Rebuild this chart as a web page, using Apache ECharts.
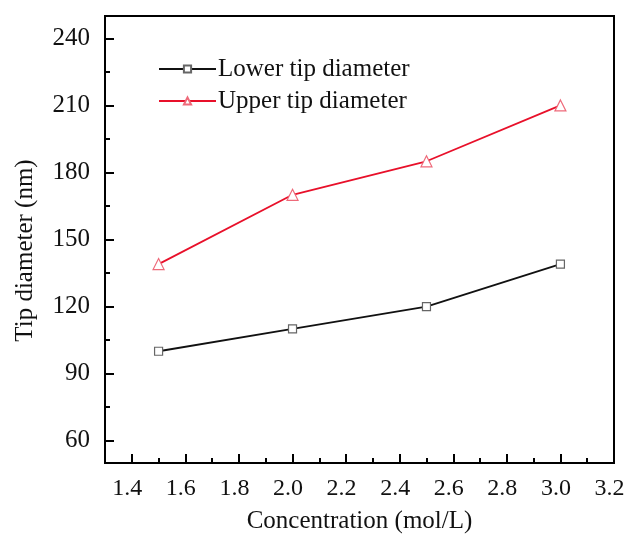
<!DOCTYPE html>
<html>
<head>
<meta charset="utf-8">
<script src="https://cdn.jsdelivr.net/npm/echarts@6/dist/echarts.min.js"></script>
<style>
  html, body { margin: 0; padding: 0; background: #fff; }
  #main { width: 625px; height: 535px; }
</style>
</head>
<body>
<div id="main"></div>
<script>
var concentration = [1.5, 2.0, 2.5, 3.0];
var lowerTip = [100, 110, 120, 139];
var upperTip = [139, 170, 185, 210];
var xLabels = [1.4, 1.6, 1.8, 2.0, 2.2, 2.4, 2.6, 2.8, 3.0, 3.2];
var xMinor = [1.5, 1.7, 1.9, 2.1, 2.3, 2.5, 2.7, 2.9, 3.1];
var yLabels = [60, 90, 120, 150, 180, 210, 240];
var yMinor = [75, 105, 135, 165, 195, 225];

function pairs(xs, ys) {
  return xs.map(function (x, i) { return [x, ys[i]]; });
}

var font = 'Liberation Serif';
var chart = echarts.init(document.getElementById('main'));

var option = {
  animation: false,
  textStyle: { fontFamily: font },
  grid: {
    left: 105, top: 16, right: 11, bottom: 72,
    outerBoundsMode: 'none', containLabel: false,
    show: true, borderColor: '#000', borderWidth: 2
  },
  legend: {
    orient: 'vertical',
    left: 153, top: 51,
    itemWidth: 57, itemHeight: 9, itemGap: 6,
    textStyle: { fontFamily: font, fontSize: 25, color: '#111', lineHeight: 26, padding: [0, 0, 0, -3] },
    data: ['Lower tip diameter', 'Upper tip diameter']
  },
  xAxis: [{
    type: 'value', min: 1.3, max: 3.2,
    name: 'Concentration (mol/L)', nameLocation: 'middle', nameGap: 46,
    nameTextStyle: { fontFamily: font, fontSize: 25, color: '#111' },
    axisLine: { lineStyle: { color: '#000', width: 2 } },
    axisTick: { inside: true, length: 9, customValues: xLabels.slice(0, 9), lineStyle: { color: '#000', width: 2 } },
    axisLabel: { customValues: xLabels, margin: 14, fontFamily: font, fontSize: 24, color: '#111',
      padding: [0, 9, 0, 0],
      formatter: function (v) { return v.toFixed(1); } },
    splitLine: { show: false }
  }, {
    type: 'value', min: 1.3, max: 3.2, position: 'bottom',
    axisLine: { show: false },
    axisTick: { inside: true, length: 5, customValues: xMinor, lineStyle: { color: '#000', width: 2 } },
    axisLabel: { show: false },
    splitLine: { show: false }
  }],
  yAxis: [{
    type: 'value', min: 50, max: 250,
    name: 'Tip diameter (nm)', nameLocation: 'middle', nameGap: 67,
    nameTextStyle: { fontFamily: font, fontSize: 25, color: '#111', padding: [0, 22, 0, 0] },
    axisLine: { show: true, lineStyle: { color: '#000', width: 2 } },
    axisTick: { show: true, inside: true, length: 9, customValues: yLabels, lineStyle: { color: '#000', width: 2 } },
    axisLabel: { customValues: yLabels, margin: 15, fontFamily: font, fontSize: 25, color: '#111' },
    splitLine: { show: false }
  }, {
    type: 'value', min: 50, max: 250, position: 'left', offset: 0,
    axisLine: { show: false },
    axisTick: { show: true, inside: true, length: 5, customValues: yMinor, lineStyle: { color: '#000', width: 2 } },
    axisLabel: { show: false },
    splitLine: { show: false }
  }],
  series: [{
    name: 'Lower tip diameter',
    type: 'line',
    data: pairs(concentration, lowerTip),
    symbol: 'rect', symbolSize: 8,
    lineStyle: { color: '#111', width: 1.8 },
    itemStyle: { color: '#fff', borderColor: '#666', borderWidth: 1.2 }
  }, {
    name: 'Upper tip diameter',
    type: 'line',
    data: pairs(concentration, upperTip),
    symbol: 'triangle', symbolSize: 11,
    lineStyle: { color: '#e8102a', width: 1.8 },
    itemStyle: { color: '#fff', borderColor: '#ee6a7a', borderWidth: 1.2 }
  }]
};

chart.setOption(option);
</script>
</body>
</html>
